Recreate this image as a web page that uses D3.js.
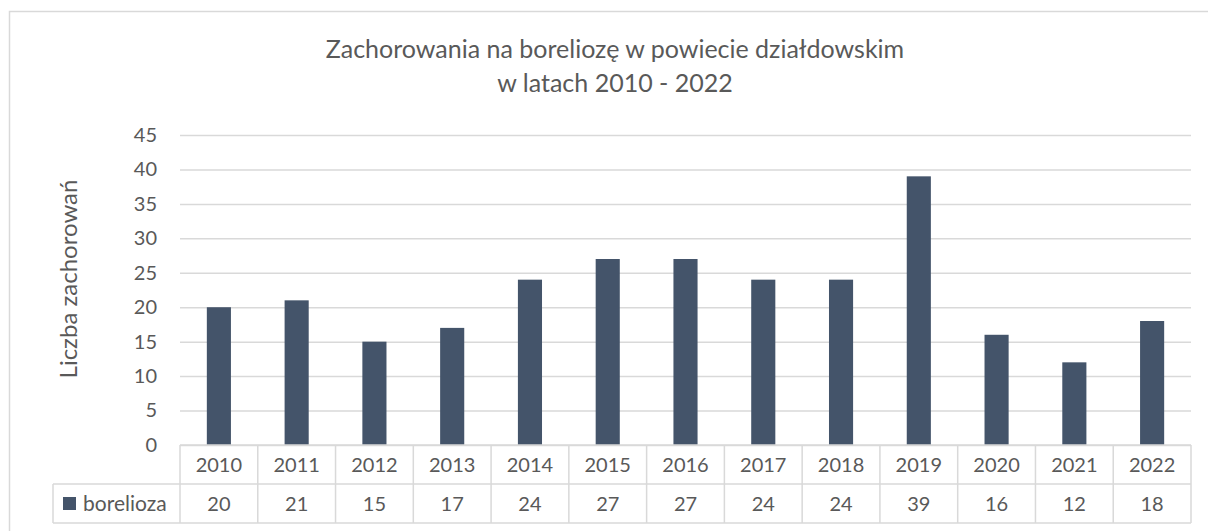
<!DOCTYPE html>
<html>
<head>
<meta charset="utf-8">
<script src="https://cdn.jsdelivr.net/npm/d3@7"></script>
<style>
  body { margin: 0; background: #fff; }
  text { font-family: Lato, "Open Sans", sans-serif; fill: #595959; }
</style>
</head>
<body>
<div class="chart"></div>
<script>
const years = ["2010","2011","2012","2013","2014","2015","2016","2017","2018","2019","2020","2021","2022"];
const cases = [20, 21, 15, 17, 24, 27, 27, 24, 24, 39, 16, 12, 18];
const yTicks = [0, 5, 10, 15, 20, 25, 30, 35, 40, 45];
const seriesName = "borelioza";
const titleLines = ["Zachorowania na boreliozę w powiecie działdowskim", "w latach 2010 - 2022"];

const W = 1208, H = 531;
const plot = {left: 180, right: 1191, top: 135, bottom: 445};
const rowH = 39;
const gridColor = "#d9d9d9";
const barColor = "#44546a";

const svg = d3.select(".chart").append("svg")
    .attr("width", W)
    .attr("height", H);

// chart frame (runs off the right and bottom edge)
svg.append("rect")
    .attr("x", 9.5).attr("y", 11.5)
    .attr("width", 1212).attr("height", 540)
    .attr("fill", "none")
    .attr("stroke", gridColor)
    .attr("stroke-width", 1.5);

// title
svg.selectAll(".title")
    .data(titleLines)
    .enter()
    .append("text")
    .attr("class", "title")
    .attr("x", 615)
    .attr("y", (d, i) => 58 + i * 34)
    .attr("text-anchor", "middle")
    .attr("font-size", 25)
    .text(d => d);

const xScale = d3.scaleBand()
    .domain(years)
    .range([plot.left, plot.right])
    .paddingInner(0.69)
    .paddingOuter(0.345);

const colScale = d3.scaleBand()
    .domain(years)
    .range([plot.left, plot.right]);

const yScale = d3.scaleLinear()
    .domain([0, 45])
    .range([plot.bottom, plot.top]);

// gridlines + y labels
const yAxis = d3.axisLeft(yScale)
    .tickValues(yTicks)
    .tickSize(-(plot.right - plot.left))
    .tickPadding(23);
const yg = svg.append("g")
    .attr("class", "axis y-axis")
    .attr("transform", `translate(${plot.left},0)`)
    .call(yAxis);
yg.select(".domain").remove();
yg.selectAll("line").attr("stroke", gridColor).attr("stroke-width", 1.5);
yg.selectAll("text").attr("font-size", 20).attr("fill", "#595959");

// bars
svg.selectAll(".bar")
    .data(cases)
    .enter()
    .append("rect")
    .attr("class", "bar")
    .attr("x", (d, i) => xScale(years[i]))
    .attr("y", d => yScale(d))
    .attr("width", xScale.bandwidth())
    .attr("height", d => yScale(0) - yScale(d))
    .attr("fill", barColor);

// y axis title
svg.append("text")
    .attr("transform", "translate(77,279) rotate(-90)")
    .attr("text-anchor", "middle")
    .attr("font-size", 24)
    .text("Liczba zachorowań");

// data table
const table = svg.append("g").attr("class", "table");
const legendLeft = 53;
const tTop = plot.bottom, tMid = plot.bottom + rowH, tBot = plot.bottom + 2 * rowH;

const hLines = [
    [plot.left, plot.right, tTop],
    [legendLeft, plot.right, tMid],
    [legendLeft, plot.right, tBot]
];
table.selectAll(".hline")
    .data(hLines)
    .enter()
    .append("line")
    .attr("x1", d => d[0]).attr("x2", d => d[1])
    .attr("y1", d => d[2]).attr("y2", d => d[2])
    .attr("stroke", gridColor).attr("stroke-width", 1.5);

const vEdges = years.map(y => colScale(y)).concat([plot.right]);
table.selectAll(".vline")
    .data(vEdges)
    .enter()
    .append("line")
    .attr("x1", d => d).attr("x2", d => d)
    .attr("y1", tTop).attr("y2", tBot)
    .attr("stroke", gridColor).attr("stroke-width", 1.5);
table.append("line")
    .attr("x1", legendLeft).attr("x2", legendLeft)
    .attr("y1", tMid).attr("y2", tBot)
    .attr("stroke", gridColor).attr("stroke-width", 1.5);

table.selectAll(".year")
    .data(years)
    .enter()
    .append("text")
    .attr("x", d => colScale(d) + colScale.bandwidth() / 2)
    .attr("y", tTop + rowH / 2)
    .attr("dy", "0.35em")
    .attr("text-anchor", "middle")
    .attr("font-size", 20)
    .text(d => d);

table.selectAll(".val")
    .data(cases)
    .enter()
    .append("text")
    .attr("x", (d, i) => colScale(years[i]) + colScale.bandwidth() / 2)
    .attr("y", tMid + rowH / 2)
    .attr("dy", "0.35em")
    .attr("text-anchor", "middle")
    .attr("font-size", 20)
    .text(d => d);

table.append("rect")
    .attr("x", 63).attr("y", tMid + 13)
    .attr("width", 13).attr("height", 13)
    .attr("fill", barColor);
table.append("text")
    .attr("x", 83)
    .attr("y", tMid + rowH / 2)
    .attr("dy", "0.35em")
    .attr("font-size", 21)
    .text(seriesName);
</script>
</body>
</html>
